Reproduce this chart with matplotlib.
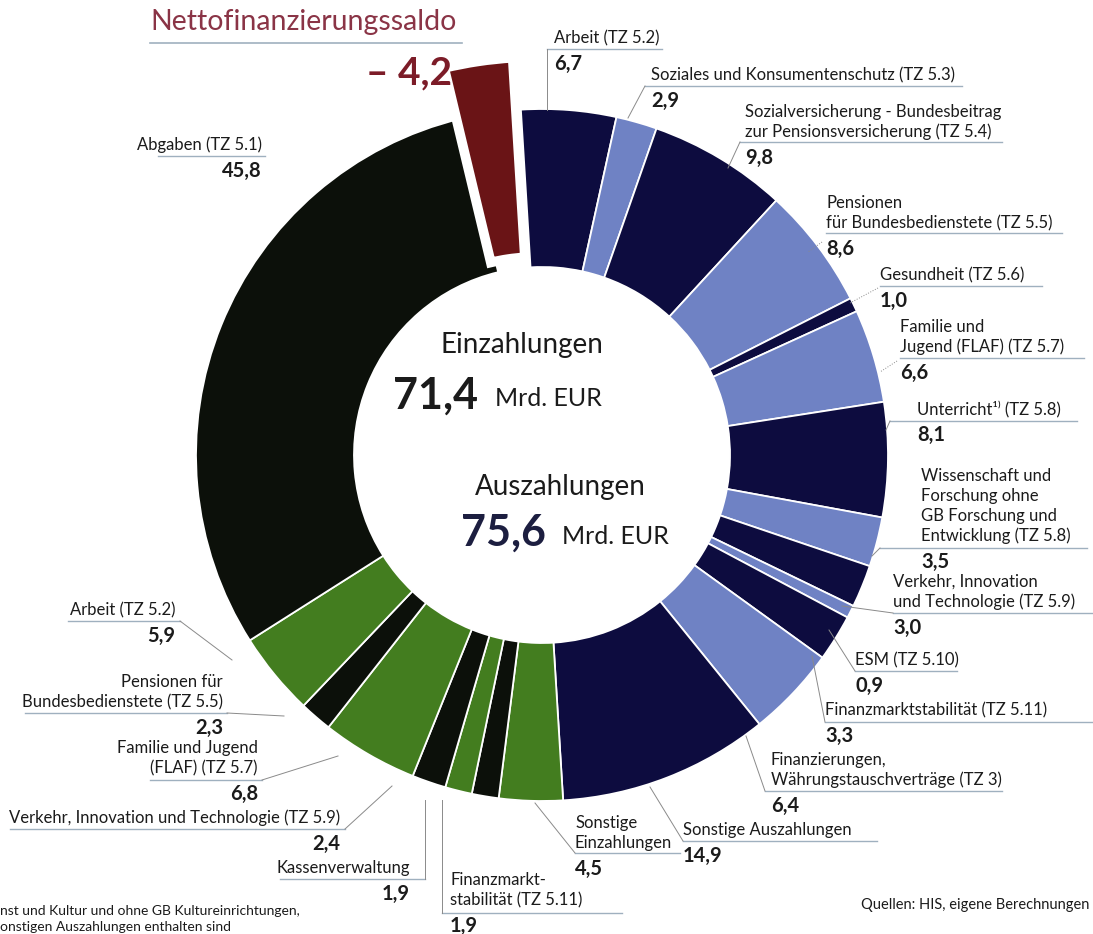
import numpy as np
import matplotlib
matplotlib.use("Agg")
import matplotlib.pyplot as plt

plt.rcParams['font.family'] = ['Lato', 'DejaVu Sans']

# Auszahlungen (Mrd. EUR), clockwise from the top
out_names = ['Arbeit (TZ 5.2)',
             'Soziales und Konsumentenschutz (TZ 5.3)',
             'Sozialversicherung - Bundesbeitrag\nzur Pensionsversicherung (TZ 5.4)',
             'Pensionen\nfür Bundesbedienstete (TZ 5.5)',
             'Gesundheit (TZ 5.6)',
             'Familie und\nJugend (FLAF) (TZ 5.7)',
             'Unterricht¹⁾ (TZ 5.8)',
             'Wissenschaft und\nForschung ohne\nGB Forschung und\nEntwicklung (TZ 5.8)',
             'Verkehr, Innovation\nund Technologie (TZ 5.9)',
             'ESM (TZ 5.10)',
             'Finanzmarktstabilität (TZ 5.11)',
             'Finanzierungen,\nWährungstauschverträge (TZ 3)',
             'Sonstige Auszahlungen']
out_values = [6.7, 2.9, 9.8, 8.6, 1.0, 6.6, 8.1, 3.5, 3.0, 0.9, 3.3, 6.4, 14.9]

# Einzahlungen (Mrd. EUR), continuing clockwise from the bottom
in_names = ['Sonstige\nEinzahlungen',
            'Finanzmarkt-\nstabilität (TZ 5.11)',
            'Kassenverwaltung',
            'Verkehr, Innovation und Technologie (TZ 5.9)',
            'Familie und Jugend\n(FLAF) (TZ 5.7)',
            'Pensionen für\nBundesbedienstete (TZ 5.5)',
            'Arbeit (TZ 5.2)',
            'Abgaben (TZ 5.1)']
in_values = [4.5, 1.9, 1.9, 2.4, 6.8, 2.3, 5.9, 45.8]

saldo_name = 'Nettofinanzierungssaldo'
saldo_value = 4.2
total_in = 71.4
total_out = 75.6

NAVY = '#0d0c3f'
LIGHT = '#6f82c4'
GREEN = '#437d1f'
BLACK = '#0c100a'
RED = '#6a1416'

out_colors = [NAVY if i % 2 == 0 else LIGHT for i in range(len(out_values))]
in_colors = [GREEN if i % 2 == 0 else BLACK for i in range(len(in_values))]

W, H = 1093, 934
fig = plt.figure(figsize=(W / 100, H / 100), dpi=100)
ax = fig.add_axes([0, 0, 1, 1])

cx, cy = 542, 455
R, r_in = 346, 188

vals = out_values + in_values + [saldo_value]
cols = out_colors + in_colors + [RED]

# y axis is inverted below, so counterclock=True runs clockwise on screen
ring, _ = ax.pie(vals, colors=cols, center=(cx, cy), radius=R,
                 startangle=-93.5, counterclock=True, normalize=True,
                 wedgeprops=dict(width=R - r_in, edgecolor='white', linewidth=1.3))
ring[-1].set_visible(False)

# saldo slice pulled out of the ring, drawn a bit longer
R2 = R + 52
lifted, _ = ax.pie(vals, colors=cols, center=(cx - 5, cy), radius=R2,
                   startangle=-93.5, counterclock=True, normalize=True,
                   wedgeprops=dict(width=R2 - 198, edgecolor='white', linewidth=7))
for w in lifted[:-1]:
    w.set_visible(False)

ax.set_xlim(0, W)
ax.set_ylim(H, 0)
ax.set_aspect('equal')
ax.axis('off')

TXT = '#1b1b1b'
UL = '#9fb0bf'
LEAD = '#8a8a8a'
FS = 12
FV = 14.5


def fmt(v):
    return f"{v:.1f}".replace('.', ',')


def put_label(name, val, x, y, ha, ul, lead, ls='-', gap=20):
    lines = name.split('\n')
    for i, ln in enumerate(lines):
        ax.text(x, y + i * gap, ln, ha=ha, va='center', fontsize=FS, color=TXT)
    yv = y + (len(lines) - 1) * gap + 26
    ax.text(x, yv, fmt(val), ha=ha, va='center', fontsize=FV, fontweight='bold', color=TXT)
    if ul:
        ax.plot([ul[0], ul[1]], [ul[2], ul[2]], color=UL, lw=1.0)
    if lead:
        ax.plot([p[0] for p in lead], [p[1] for p in lead], color=LEAD, lw=0.7, ls=ls)


out_layout = [
    (554, 38, (547, 662, 49), [(547, 49), (547, 110)], '-'),
    (651, 75, (645, 962, 86), [(645, 86), (628, 118)], '-'),
    (745, 112, (740, 1002, 142), [(740, 142), (728, 168)], '-'),
    (826, 203, (826, 1062, 233), [(822, 242), (808, 252)], ':'),
    (880, 275, (880, 1042, 286), [(878, 288), (850, 303)], ':'),
    (900, 327, (900, 1084, 358), [(897, 361), (880, 372)], ':'),
    (917, 409, (890, 1077, 421), [(890, 421), (886, 430)], '-'),
    (921, 476, (880, 1087, 548), [(880, 548), (872, 556)], '-'),
    (893, 582, (893, 1092, 613), [(893, 613), (842, 606)], '-'),
    (855, 660, (855, 957, 671), [(855, 671), (829, 630)], '-'),
    (825, 710, (825, 1092, 722), [(825, 722), (812, 656)], '-'),
    (771, 760, (765, 1002, 791), [(765, 791), (746, 736)], '-'),
    (683, 830, (683, 877, 841), [(683, 841), (650, 787)], '-'),
]
for name, val, (x, y, ul, lead, ls) in zip(out_names, out_values, out_layout):
    put_label(name, val, x, y, 'left', ul, lead, ls)

in_layout = [
    (575, 823, 'left', (575, 680, 853), [(575, 853), (535, 803)]),
    (450, 880, 'left', (442, 622, 913), [(442, 913), (442, 800)]),
    (410, 868, 'right', (280, 425, 879), [(425, 879), (425, 800)]),
    (340, 818, 'right', (10, 345, 829), [(345, 829), (392, 786)]),
    (258, 748, 'right', (150, 262, 780), [(262, 780), (338, 756)]),
    (223, 682, 'right', (25, 227, 713), [(227, 713), (284, 716)]),
    (175, 610, 'right', (68, 180, 621), [(180, 621), (232, 660)]),
    (262, 145, 'right', (158, 265, 156), None),
]
for name, val, (x, y, ha, ul, lead) in zip(in_names, in_values, in_layout):
    put_label(name, val, x, y, ha, ul, lead)

# Nettofinanzierungssaldo
ax.text(150, 22, saldo_name, ha='left', va='center', fontsize=20.5, color='#8a3446')
ax.plot([150, 462], [43, 43], color=UL, lw=1.2)
ax.text(452, 73, '– ' + fmt(saldo_value), ha='right', va='center', fontsize=28,
        fontweight='bold', color='#7c1c28')

# centre
ax.text(522, 345, 'Einzahlungen', ha='center', va='center', fontsize=20, color=TXT)
ax.text(478, 396, fmt(total_in), ha='right', va='center', fontsize=31, fontweight='bold', color=TXT)
ax.text(495, 399, 'Mrd. EUR', ha='left', va='center', fontsize=18, color=TXT)
ax.text(560, 487, 'Auszahlungen', ha='center', va='center', fontsize=20, color=TXT)
ax.text(546, 533, fmt(total_out), ha='right', va='center', fontsize=31, fontweight='bold', color='#1c1e40')
ax.text(562, 536, 'Mrd. EUR', ha='left', va='center', fontsize=18, color=TXT)

# footnotes
ax.text(0, 911, 'nst und Kultur und ohne GB Kultureinrichtungen,', ha='left', va='center',
        fontsize=10, color=TXT)
ax.text(0, 927, 'onstigen Auszahlungen enthalten sind', ha='left', va='center',
        fontsize=10, color=TXT)
ax.text(1089, 905, 'Quellen: HIS, eigene Berechnungen', ha='right', va='center',
        fontsize=10.5, color=TXT)

fig.savefig('out.png', dpi=100)
